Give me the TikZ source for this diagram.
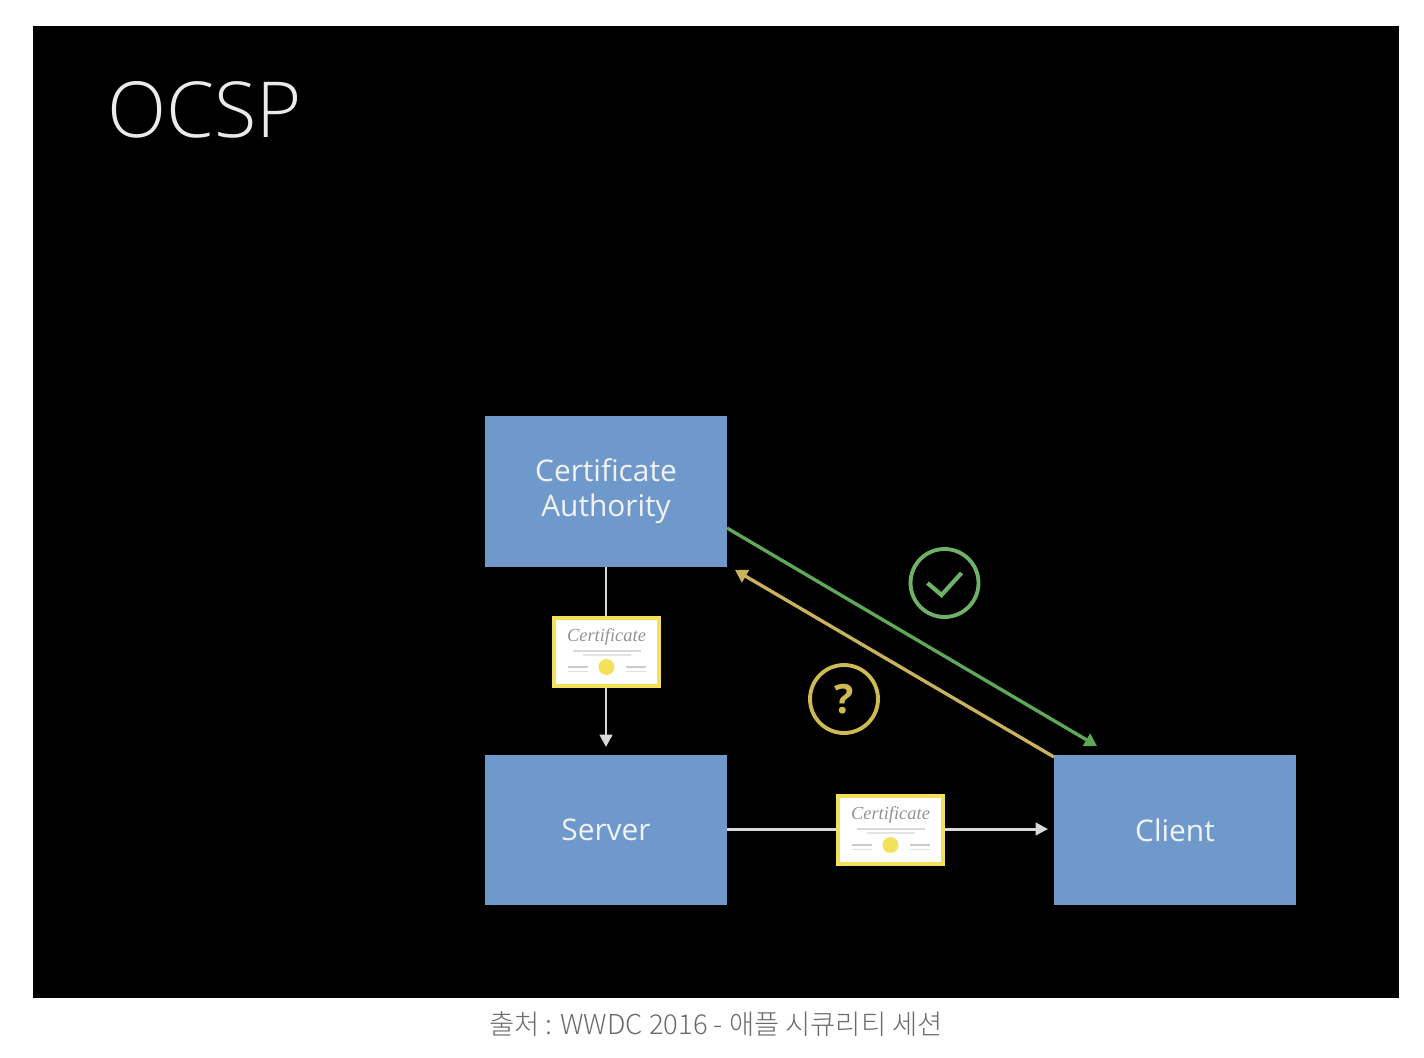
\documentclass[tikz,border=0pt]{standalone}
\usepackage{fontspec}
\setmainfont{Open Sans}
\newfontfamily\titlefont{Open Sans Light}
\newfontfamily\krfont{Noto Sans CJK KR Light}
\newfontfamily\certfont{Liberation Serif}
\usetikzlibrary{arrows.meta}
\definecolor{boxblue}{HTML}{7099CB}
\definecolor{certyellow}{HTML}{F3E15A}
\definecolor{okgreen}{HTML}{5FA858}
\definecolor{askyellow}{HTML}{C9B25C}

\tikzset{
    pics/certdetail/.style={code={
        \fill[certyellow] (0,15) circle (8);
        \foreach \sx in {-1,1} {
            \fill[gray!40] (\sx*29-10,14) rectangle (\sx*29+10,16);
            \fill[gray!25] (\sx*29-10,19) rectangle (\sx*29+10,20);
        }
        \fill[gray!30] (-34,-2) rectangle (34,0);
        \fill[gray!22] (-24,2) rectangle (24,4);
        \node[inner sep=0pt, text=gray!85, font=\certfont\itshape\fontsize{10.5}{11}\selectfont] (certword) at (0,-15) {Certificate};
    }}
}

\begin{document}
\begin{tikzpicture}[x=0.02cm, y=-0.02cm,
    main box/.style={rectangle, fill=boxblue, minimum width=4.84cm, minimum height=3.02cm, inner sep=0pt, align=center, text=white!95!black, font=\fontsize{17}{20.5}\selectfont},
    cert box/.style={rectangle, draw=certyellow, line width=2.8pt, fill=white, minimum width=2.1cm, minimum height=1.36cm, inner sep=0pt},
    mark circle/.style={circle, draw, line width=2.2pt, minimum size=1.36cm, inner sep=0pt},
    plain line/.style={white!85!black, line width=1.7pt, -{Triangle[length=7pt, width=7pt]}},
    slant line/.style={line width=1.9pt, -{Triangle[length=7pt, width=8pt]}}]

    \useasboundingbox (0,0) rectangle (1424,1058);
    \fill[white] (0,0) rectangle (1424,1058);
    \fill[black] (33,26) rectangle (1399,998);

    \node[text=white!92!black, anchor=base west, inner sep=0pt, font=\titlefont\fontsize{44}{44}\selectfont] (title) at (107,137) {OCSP};

    \node[main box] (ca) at (606,491.5) {\raisebox{-2pt}{Certificate}\\[1.5pt]Authority};
    \node[main box] (server) at (606,830) {Server};
    \node[main box] (client) at (1175,830) {Client};

    \coordinate (serverin) at (606,747);
    \coordinate (clientin) at (1048,829);
    \coordinate (caright) at (727,528);
    \coordinate (clienttop) at (1097,746);
    \coordinate (cabelow) at (735,570);
    \coordinate (clientcorner) at (1054,757);

    % arrows go under the certificates
    \draw[plain line] (ca.south) -- (serverin);
    \draw[plain line] (server.east |- clientin) -- (clientin);
    \draw[slant line, okgreen] (caright) -- (clienttop);
    \draw[slant line, askyellow] (clientcorner) -- (cabelow);

    \node[cert box] (certdown) at (606.5,652) {};
    \node[cert box] (certright) at (890.5,830) {};
    \pic at (certdown) {certdetail};
    \pic at (certright) {certdetail};

    \node[mark circle, draw=okgreen!90!white] (okmark) at (944.5,583) {};
    \draw[okgreen!90!white, line width=2.4pt] ([shift={(-17,0)}]okmark.center) -- ([shift={(-3,12)}]okmark.center) -- ([shift={(17,-10)}]okmark.center);
    \node[mark circle, draw=askyellow!90!yellow, text=askyellow!90!yellow, font=\fontsize{23}{23}\bfseries\selectfont] (askmark) at (844,699) {?};

    \node[text=black!58, inner sep=0pt, font=\krfont\fontsize{15.6}{18}\selectfont] (caption) at (716,1024) {출처 : WWDC 2016 - 애플 시큐리티 세션};
\end{tikzpicture}
\end{document}
